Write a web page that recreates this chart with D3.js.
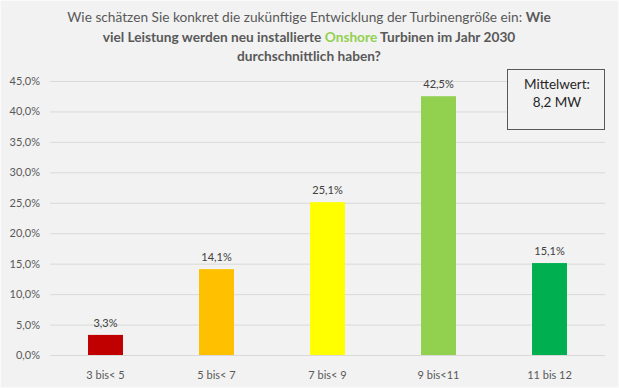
<!DOCTYPE html>
<html>
<head>
<meta charset="utf-8">
<script src="https://cdn.jsdelivr.net/npm/d3@7"></script>
<style>
  body { margin: 0; background: #f2f2f2; }
  svg { display: block; font-family: Lato, "Open Sans", sans-serif; }
</style>
</head>
<body>
<svg id="chart" width="619" height="388"></svg>
<script>
const categories = ['3 bis< 5', '5 bis< 7', '7 bis< 9', '9 bis<11', '11 bis 12'];
const values = [3.3, 14.1, 25.1, 42.5, 15.1];
const barColors = ['#c00000', '#ffc000', '#ffff00', '#92d050', '#00b050'];
const yTicks = [0, 5, 10, 15, 20, 25, 30, 35, 40, 45];
const meanLines = ['Mittelwert:', '8,2 MW'];

const width = 619, height = 388;
const margin = { top: 81, right: 14, bottom: 33, left: 50 };

const svg = d3.select('#chart');
svg.append('rect')
  .attr('x', 0.5).attr('y', 0.5)
  .attr('width', width - 1).attr('height', height - 1)
  .attr('fill', '#f2f2f2')
  .attr('stroke', '#fafafa');

const x = d3.scaleBand()
  .domain(categories)
  .range([margin.left, width - margin.right])
  .paddingInner(0.685)
  .paddingOuter(0.3425);

const y = d3.scaleLinear()
  .domain([0, 45])
  .range([height - margin.bottom, margin.top]);

const fmt = v => d3.format('.1f')(v).replace('.', ',') + '%';

// gridlines + y labels
const yAxis = svg.append('g')
  .attr('transform', `translate(${margin.left},0)`)
  .call(d3.axisLeft(y).tickValues(yTicks)
    .tickSize(-(width - margin.left - margin.right))
    .tickPadding(10)
    .tickFormat(fmt));
yAxis.select('.domain').remove();
yAxis.selectAll('line').attr('stroke', '#d9d9d9');
yAxis.selectAll('text')
  .attr('fill', '#595959')
  .attr('font-size', 11)
  .attr('font-family', 'Lato, sans-serif');

// x labels
const xAxis = svg.append('g')
  .attr('transform', `translate(0,${height - margin.bottom})`)
  .call(d3.axisBottom(x).tickSize(0).tickPadding(16));
xAxis.select('.domain').remove();
xAxis.selectAll('text')
  .attr('fill', '#595959')
  .attr('font-size', 11)
  .attr('font-family', 'Lato, sans-serif');

// bars
svg.append('g')
  .selectAll('rect')
  .data(values)
  .join('rect')
  .attr('x', (d, i) => x(categories[i]))
  .attr('y', d => y(d))
  .attr('width', x.bandwidth())
  .attr('height', d => y(0) - y(d))
  .attr('fill', (d, i) => barColors[i]);

// value labels
svg.append('g')
  .selectAll('text')
  .data(values)
  .join('text')
  .attr('x', (d, i) => x(categories[i]) + x.bandwidth() / 2)
  .attr('y', d => y(d) - 8)
  .attr('text-anchor', 'middle')
  .attr('font-size', 11)
  .attr('fill', '#404040')
  .text(fmt);

// title
const title = svg.append('text')
  .attr('text-anchor', 'middle')
  .attr('font-size', 13.7)
  .attr('fill', '#595959');
title.append('tspan').attr('x', 309).attr('y', 22)
  .text('Wie schätzen Sie konkret die zukünftige Entwicklung der Turbinengröße ein: ')
  .append('tspan').attr('font-weight', 'bold').text('Wie');
const l2 = title.append('tspan').attr('x', 309).attr('y', 42).attr('font-weight', 'bold');
l2.append('tspan').text('viel Leistung werden neu installierte ');
l2.append('tspan').attr('fill', '#92d050').text('Onshore');
l2.append('tspan').text(' Turbinen im Jahr 2030');
title.append('tspan').attr('x', 309).attr('y', 61).attr('font-weight', 'bold')
  .text('durchschnittlich haben?');

// mean box
const box = svg.append('g');
box.append('rect')
  .attr('x', 507.5).attr('y', 69.5)
  .attr('width', 97).attr('height', 60)
  .attr('fill', '#f2f2f2')
  .attr('stroke', '#595959');
box.selectAll('text')
  .data(meanLines)
  .join('text')
  .attr('x', 557)
  .attr('y', (d, i) => 89 + i * 18)
  .attr('text-anchor', 'middle')
  .attr('font-size', 13.5)
  .attr('fill', '#262626')
  .text(d => d);
</script>
</body>
</html>
